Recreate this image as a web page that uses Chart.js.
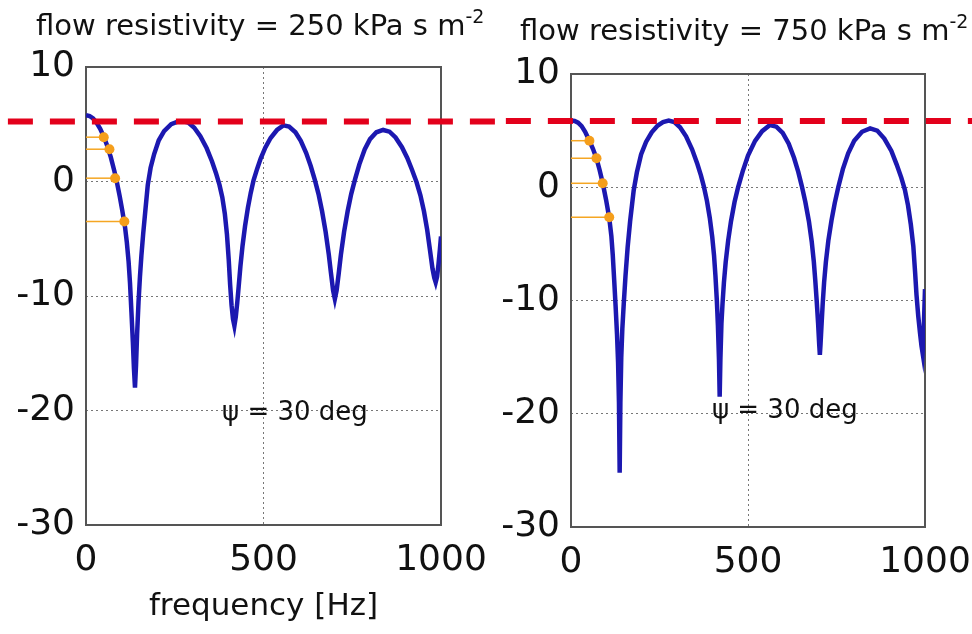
<!DOCTYPE html>
<html>
<head>
<meta charset="utf-8">
<script src="https://cdn.jsdelivr.net/npm/chart.js@4.4.1/dist/chart.umd.min.js"></script>
<style>
    body { margin: 0; background: #fff; }
    #wrap { position: relative; width: 972px; height: 634px; overflow: hidden; }
    canvas { position: absolute; left: 0; top: 0; }
    .title { position: absolute; font-family: "DejaVu Sans"; font-size: 29px; color: #111; white-space: nowrap; line-height: 1; }
    .title sup { font-size: 19px; vertical-align: 12px; line-height: 0; }
</style>
</head>
<body>
<div id="wrap">
    <canvas id="left-chart" width="972" height="634"></canvas>
    <canvas id="right-chart" width="972" height="634"></canvas>
    <div class="title" style="left:36px; top:11px">flow resistivity = 250 kPa s m<sup>-2</sup></div>
    <div class="title" style="left:520px; top:16px">flow resistivity = 750 kPa s m<sup>-2</sup></div>
</div>
<script>
// axis ticks
const freqTicks = [0, 500, 1000];
const levelTicks = [-30, -20, -10, 0, 10];

// 250 kPa s m^-2
const leftFreq = [0, 10, 20, 30, 40, 50, 60, 70, 80, 86,
    95, 102, 110, 115, 120, 124, 128, 132, 135, 138,
    141, 144, 148, 152, 156, 161, 167, 174, 182, 192,
    205, 220, 240, 258, 272, 288, 305, 322, 340, 355,
    366, 376, 384, 391, 397, 402, 406, 410, 414, 418,
    422, 426, 430, 435, 441, 448, 456, 464, 472, 482,
    492, 505, 520, 538, 556, 572, 590, 605, 620, 633,
    645, 655, 665, 675, 684, 690, 696, 701, 706, 712,
    718, 727, 737, 747, 758, 770, 785, 800, 818, 837,
    855, 872, 890, 905, 918, 931, 942, 952, 961, 969,
    976, 981, 985, 989, 993, 997, 1000];
const leftLevel = [5.8, 5.72, 5.5, 5.12, 4.6, 3.92, 3.1, 2.1, 0.9, 0.1,
    -1.3, -2.5, -4.0, -5.3, -7.0, -8.9, -11.4, -14.0, -16.3, -18.0,
    -16.0, -13.3, -10.5, -8.3, -6.5, -4.6, -2.6, -0.3, 1.2, 2.4,
    3.6, 4.4, 5.0, 5.22, 5.27, 5.15, 4.7, 3.95, 2.9, 1.75,
    0.75, -0.3, -1.4, -2.8, -4.6, -6.8, -9.0, -10.8, -12.0, -12.6,
    -11.8, -10.6, -9.2, -7.4, -5.6, -3.9, -2.3, -1.0, 0.1, 1.1,
    2.0, 2.95, 3.8, 4.5, 4.9, 4.8, 4.3, 3.55, 2.5, 1.35,
    0.1, -1.1, -2.6, -4.4, -6.4, -8.0, -9.5, -10.25, -9.5, -8.0,
    -6.4, -4.4, -2.6, -1.1, 0.2, 1.5, 2.8, 3.7, 4.3, 4.5,
    4.35, 3.85, 3.0, 2.05, 1.05, -0.05, -1.2, -2.6, -4.2, -6.0,
    -7.6, -8.4, -8.8, -8.3, -7.2, -5.9, -4.8];
const leftMarkFreq = [50, 66, 82, 108];
const leftMarkLevel = [3.87, 2.82, 0.29, -3.5];
const leftRefLevel = 5.24;
const leftRefSpan = [-220, 1183];

// 750 kPa s m^-2
const rightFreq = [0, 10, 20, 30, 40, 52, 62, 72, 81, 90,
    99, 108, 114, 118, 122, 126, 130, 133, 135.5, 137.5,
    139.5, 142, 145, 149, 154, 160, 167, 177, 186, 198,
    212, 228, 245, 260, 276, 292, 308, 325, 342, 357,
    367, 375, 384, 392, 399, 404, 408, 412, 415, 418,
    420, 422, 425, 428, 432, 437, 444, 452, 462, 472,
    485, 500, 520, 540, 562, 580, 598, 615, 630, 642,
    652, 662, 672, 680, 686, 690, 694, 698, 701, 703,
    705, 708, 711, 715, 720, 727, 736, 745, 755, 768,
    783, 800, 822, 845, 865, 885, 905, 920, 933, 943,
    952, 960, 967, 972, 976, 981, 986, 990, 993, 996,
    998, 1000];
const rightLevel = [5.9, 5.85, 5.7, 5.4, 4.9, 4.1, 3.4, 2.55, 1.5, 0.3,
    -1.1, -2.7, -4.3, -6.0, -8.2, -10.5, -13.0, -15.5, -19.0, -25.2,
    -19.0, -15.0, -12.5, -10.3, -7.8, -5.3, -3.0, -0.3, 1.3, 2.9,
    4.0, 4.85, 5.45, 5.75, 5.88, 5.75, 5.3, 4.5, 3.35, 2.05,
    1.05, 0.1, -1.2, -2.7, -4.4, -6.0, -7.8, -10.0, -12.2, -15.2,
    -18.5, -15.2, -12.0, -10.3, -8.4, -6.6, -4.7, -3.0, -1.3, 0,
    1.4, 2.8, 4.1, 4.95, 5.5, 5.35, 4.8, 3.85, 2.6, 1.35,
    0.1, -1.3, -3.0, -4.8, -6.6, -8.2, -10.0, -12.0, -13.8, -14.8,
    -13.8, -12.0, -10.3, -8.4, -6.6, -4.7, -2.9, -1.4, 0, 1.6,
    3.0, 4.1, 4.9, 5.2, 5.0, 4.3, 3.2, 2.0, 0.85, -0.2,
    -1.6, -3.3, -5.2, -7.5, -9.5, -11.4, -12.9, -14.0, -14.6, -13.0,
    -11.0, -9.0];
const rightMarkFreq = [52, 72, 89.5, 108];
const rightMarkLevel = [4.11, 2.56, 0.35, -2.65];
const rightRefLevel = 5.85;
const rightRefSpan = [-184, 1133];

const noteText = 'ψ = 30 deg';
const noteFreq = [383, 398];
const noteLevel = [-20.2, -19.8];

Chart.defaults.font.family = '"DejaVu Sans", sans-serif';
Chart.defaults.color = '#111';

const frame = {
    id: 'frame',
    beforeDatasetsDraw(chart) {
        const { ctx, chartArea: a } = chart;
        ctx.save();
        ctx.strokeStyle = '#555';
        ctx.lineWidth = 2;
        ctx.strokeRect(a.left, a.top, a.width, a.height);
        ctx.restore();
    }
};

const note = {
    id: 'note',
    afterDatasetsDraw(chart, args, opts) {
        const ctx = chart.ctx;
        ctx.save();
        ctx.font = '26px "DejaVu Sans"';
        ctx.fillStyle = '#111';
        ctx.textBaseline = 'middle';
        ctx.fillText(opts.text, chart.scales.x.getPixelForValue(opts.x), chart.scales.y.getPixelForValue(opts.y));
        ctx.restore();
    }
};

function makeChart(id, freq, level, markFreq, markLevel, refLevel, refSpan, noteIdx, box, xTitle) {
    const datasets = [{
        data: refSpan.map(f => ({ x: f, y: refLevel })),
        borderColor: '#e3001b',
        borderWidth: 6,
        borderDash: [25, 17],
        pointRadius: 0,
        clip: false,
        order: 0
    }];
    markFreq.forEach((f, i) => {
        datasets.push({
            data: [{ x: 0, y: markLevel[i] }, { x: f, y: markLevel[i] }],
            borderColor: '#f5a623',
            borderWidth: 1.5,
            pointRadius: [0, 5],
            pointBackgroundColor: '#f59e1b',
            pointBorderWidth: 0,
            order: 1
        });
    });
    datasets.push({
        data: freq.map((f, i) => ({ x: f, y: level[i] })),
        borderColor: '#1c18b0',
        borderWidth: 4.5,
        pointRadius: 0,
        tension: 0,
        order: 2
    });

    return new Chart(document.getElementById(id), {
        type: 'line',
        data: { datasets },
        options: {
            responsive: false,
            animation: false,
            devicePixelRatio: 1,
            events: [],
            layout: { padding: { left: box.left - 86, top: box.top, right: 972 - box.right, bottom: 0 } },
            plugins: {
                legend: { display: false },
                tooltip: { enabled: false },
                note: { text: noteText, x: noteFreq[noteIdx], y: noteLevel[noteIdx] }
            },
            scales: {
                x: {
                    type: 'linear',
                    min: 0,
                    max: 1000,
                    afterBuildTicks: s => { s.ticks = freqTicks.map(v => ({ value: v })); },
                    afterFit: s => {
                        s.height = 634 - box.bottom;
                        s.paddingLeft = 0;
                        s.paddingRight = 0;
                    },
                    ticks: { font: { size: 36 }, padding: 14, maxRotation: 0, autoSkip: false, callback: v => String(v) },
                    grid: { color: '#777', lineWidth: 1, drawTicks: false },
                    border: { display: false, dash: [2, 3] },
                    title: { display: !!xTitle, text: xTitle, font: { size: 31 }, padding: { top: 0, bottom: 8 } }
                },
                y: {
                    min: -30,
                    max: 10,
                    afterBuildTicks: s => { s.ticks = levelTicks.map(v => ({ value: v })); },
                    afterFit: s => { s.width = 86; },
                    ticks: { font: { size: 36 }, padding: 11, callback: v => String(v) },
                    grid: { color: '#777', lineWidth: 1, drawTicks: false },
                    border: { display: false, dash: [2, 3] }
                }
            }
        },
        plugins: [frame, note]
    });
}

makeChart('left-chart', leftFreq, leftLevel, leftMarkFreq, leftMarkLevel, leftRefLevel, leftRefSpan, 0,
    { left: 86, right: 441, top: 67, bottom: 525 }, 'frequency [Hz]');
makeChart('right-chart', rightFreq, rightLevel, rightMarkFreq, rightMarkLevel, rightRefLevel, rightRefSpan, 1,
    { left: 571, right: 925, top: 74, bottom: 527 }, '');
</script>
</body>
</html>
